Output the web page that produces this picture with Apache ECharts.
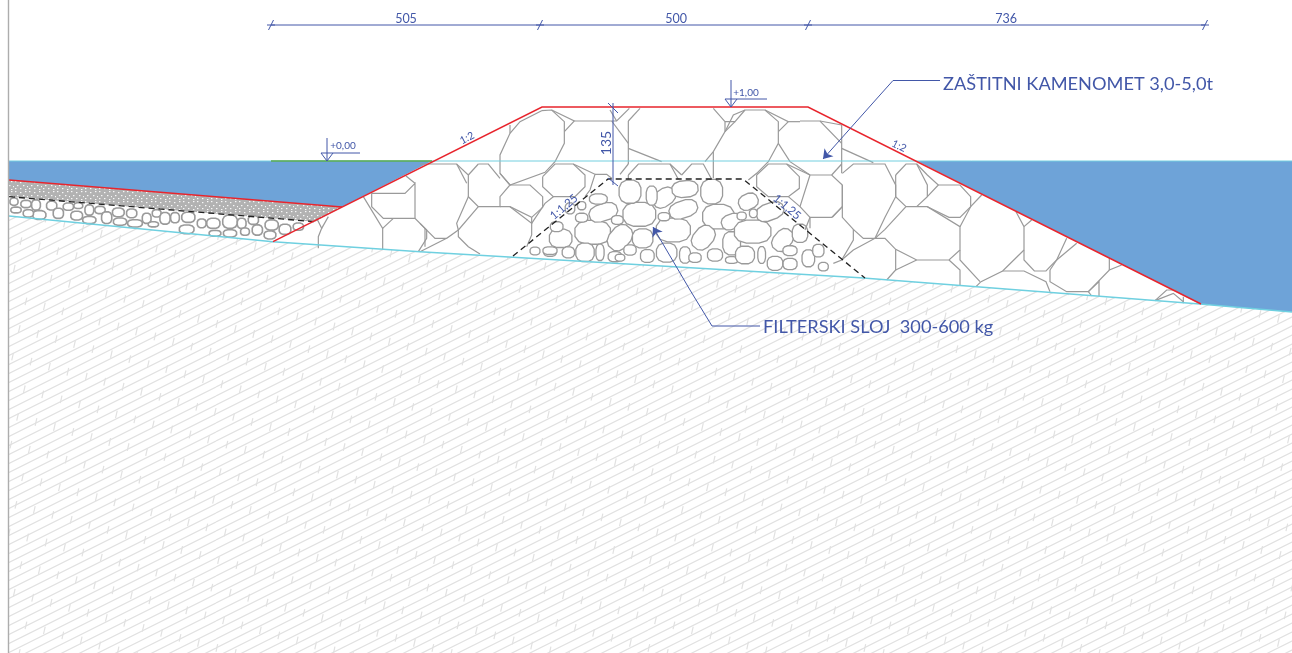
<!DOCTYPE html>
<html><head><meta charset="utf-8">
<style>html,body{margin:0;padding:0;background:#fff}#c{width:1292px;height:653px}</style>
<script src="https://cdn.jsdelivr.net/npm/echarts@6/dist/echarts.min.js"></script>
</head><body><div id="c"></div>
<script>
// ---- profile geometry (drawing units = picture pixels) ----
const seabed = [[9,216],[273,241.7],[420,251.7],[860,277.7],[1200,304],[1292,312]];
const groundOutline = [...seabed,[1292,653],[9,653]];
const waterLeft = [[9,161],[432,161],[342,207],[9,180]];
const waterRight = [[917,161],[1292,161],[1292,312],[1200,304]];
const gravelBand = [[9,180],[342,207],[315,221.7],[9,196.7]];
const armourOutline = [[273,241.7],[542,107],[808,107],[1201,304]];
const toeTop = [[9,180],[342,207]];
const waterLevel = [[9,161],[1292,161]];
const greenLevel = [[271,161],[432,161]];
const filterDashed = [[513,256],[608,179],[743,179],[865,278]];
const toeDashed = [[9,196.7],[315,221.7]];

const rocksLeftCrop = [
 [[1090,140],[1148,235],[1148,300]],[[1148,235],[1180,205]],
 [[1115,130],[1115,170],[1150,205],[1245,205],[1280,240],[1280,265],[1255,305]],
 [[1115,130],[1215,130],[1245,100],[1245,205]],[[1218,78],[1245,100]],
 [[950,205],[965,235],[955,260],[955,295]],[[985,200],[965,235]]
];
const rocksCrestCrop = [
 [[270,105],[270,130]],
 [[365,62],[395,60],[433,95],[433,160],[405,215],[375,247],[270,285],[240,250],[240,195],[270,130],[300,95],[365,62]],
 [[395,60],[463,93],[433,125]],[[463,93],[590,93],[628,55]],[[570,60],[590,93]],
 [[575,93],[625,160]],[[625,93],[660,55]],[[625,93],[625,222]],[[625,175],[725,215]],
 [[880,55],[915,95],[915,125],[880,185],[855,215]],[[915,95],[945,95],[975,60]],
 [[945,95],[915,125]],[[975,60],[1035,60],[1075,95],[1075,160],[1045,215],[1010,250],[985,270]],
 [[975,60],[940,75],[915,125]],[[880,185],[880,265]],
 [[1035,60],[1105,95],[1075,125]],[[1105,95],[1140,95]],
 [[1075,160],[1110,215],[1170,255]],[[1170,255],[1140,350],[1170,382]],
 [[0,222],[110,222],[145,255],[145,320],[175,350],[240,350],[240,320],[270,285],[240,250]],
 [[110,222],[140,280]],[[175,222],[145,255]],[[175,222],[205,222],[240,265]],
 [[270,285],[330,285],[368,320],[368,352],[335,382],[270,350],[240,350]],
 [[175,350],[115,420],[115,440],[145,470],[180,492]],[[270,350],[335,400],[335,435],[320,470]],
 [[335,382],[335,400]],[[145,320],[110,400],[115,420]],
 [[0,400],[45,445],[80,445],[115,420]],[[80,445],[0,485]],[[15,415],[15,470]],
 [[368,260],[405,222],[460,222],[495,255],[495,290],[465,320],[400,320],[368,290],[368,260]],
 [[460,222],[525,253],[510,300],[495,320]],[[525,253],[560,253],[575,265]],
 [[335,400],[375,340],[400,320]],
 [[600,253],[625,222]],[[625,255],[655,222],[750,222],[775,268]],[[625,255],[625,268]],
 [[785,255],[815,222],[850,222],[875,268]],[[750,222],[785,255]],
 [[1010,255],[1045,222],[1100,222],[1138,260],[1138,295],[1105,320],[1045,320],[1010,290],[1010,255]],
 [[1100,222],[1170,255]],[[1105,320],[1140,350]],[[1170,382],[1155,420]]
];
const rocksRightCrop = [
 [[0,93],[60,93],[125,160]],[[60,93],[125,105]],[[125,105],[125,250]],[[125,175],[220,218]],
 [[30,255],[95,255],[127,285],[127,350],[95,382],[30,382]],[[95,255],[125,222]],
 [[127,350],[97,382]],[[127,285],[127,382],[160,418],[190,445],[225,445],[255,418],[318,350],[382,350],[480,410],[480,480],[447,510],[350,510],[287,478],[255,445],[225,445],[160,480],[125,510]],
 [[127,250],[160,222],[255,222],[287,285],[287,320],[255,382],[225,445]],
 [[287,255],[318,222],[350,222],[382,285],[382,320],[350,350]],[[287,255],[287,320],[318,350]],
 [[350,222],[382,255],[415,285],[382,320]],[[415,285],[480,285],[512,320],[512,350],[480,410]],[[512,350],[480,382],[447,382],[382,350]],
 [[512,350],[545,315]],[[30,382],[30,415]],[[160,418],[160,450],[125,510],[100,520]],
 [[648,365],[672,410],[672,510],[703,543],[738,543],[770,510],[800,445]],[[672,410],[695,390]],
 [[672,480],[608,543],[543,575],[528,590]],[[770,510],[830,460]],
 [[750,540],[750,575],[800,605],[865,605],[928,540],[965,525]],[[928,505],[928,540]],[[750,540],[770,510]],
 [[608,543],[672,543],[738,575],[750,605]],[[865,605],[897,575],[897,618]],[[865,605],[875,618]],
 [[480,480],[480,510],[540,575]],[[447,510],[480,540],[480,585]],
 [[287,478],[287,540],[260,570]],[[287,540],[350,510]],
 [[1065,632],[1100,600],[1130,600]],[[1065,632],[1120,610],[1150,635]],[[1150,620],[1150,640]]
];

// ---- small stones: centre x, centre y, radius x, radius y, tilt (crop units, 3x) ----
const filterStonesCentre = [
 [298,118,48,35,0],[400,165,50,35,0],[158,172,52,35,0],[240,188,40,30,-50],[190,112,42,25,-18],[430,103,42,25,-18],
 [372,68,35,25,-35],[270,50,32,34,0],[335,62,16,28,0],[435,42,38,24,-5],[515,50,32,36,0],[535,125,46,36,0],
 [490,188,38,28,-50],[308,190,30,28,0],[125,128,18,13,0],[135,232,27,27,0],[180,232,12,24,0],[225,245,20,15,0],
 [270,225,18,15,0],[322,243,20,19,0],[380,233,30,28,0],[435,240,16,24,0],[62,190,33,27,0],[30,232,18,12,0],
 [85,232,18,16,0],[372,125,17,12,0],[232,135,17,13,0],[175,72,26,15,0],[465,248,18,14,0],[575,140,30,22,-20],
 [575,205,26,34,0],[525,240,22,18,0],[575,255,18,10,0],[90,100,14,16,0],[125,92,12,12,0],[240,248,14,10,0]
];
const filterStonesSides = [
 [998,425,52,33,0],[1050,365,40,24,-20],[1088,450,34,25,-50],[985,335,28,22,-25],[975,495,27,25,0],[1025,495,11,24,0],
 [1110,482,20,14,0],[1165,505,18,24,0],[1140,430,22,26,0],[1195,482,16,18,0],[1110,522,20,16,0],[1065,520,22,20,0],
 [1000,370,11,12,0],[965,378,13,11,0],[1210,530,14,12,0],[345,483,14,11,0],[390,482,20,11,0],[410,410,18,14,0]
];
const toeStonesCropA = [
 [42,80,11,10,0],[48,105,14,8,0],[78,87,14,10,0],[108,90,12,14,0],[118,120,18,12,0],[155,92,14,12,0],[85,115,14,10,0],
 [175,115,14,14,0],[205,95,14,10,0],[230,122,16,12,0],[235,92,12,8,0],[268,105,12,14,0],[268,135,18,10,0],[300,105,14,10,0],
 [320,128,14,16,0],[355,112,16,12,0],[360,140,18,10,0],[395,115,14,12,0],[405,145,20,10,0],[440,130,12,14,0],[470,115,12,10,0],
 [460,148,14,7,0],[495,130,14,16,0],[525,128,12,14,0]
];
const toeStonesCropB = [
 [55,82,18,14,0],[50,118,20,12,0],[95,100,12,12,0],[130,100,18,14,0],[135,130,16,8,0],[180,95,20,18,0],[180,130,18,10,0],
 [215,100,12,14,0],[225,125,12,10,0],[250,90,14,12,0],[262,120,14,14,0],[305,105,18,14,0],[300,135,16,11,0],
 [345,118,16,14,0],[385,110,14,10,0]
];

// ---- annotations ----
const dimensionTicksX = [271,540,808,1205];
const dimensionLabels = [
 {text:'505',x:406,y:19,size:12.5},{text:'500',x:676,y:19,size:12.5},{text:'736',x:1006,y:19,size:12.5}
];
const textLabels = [
 {text:'+0,00',x:343,y:146,size:10,narrow:true},{text:'+1,00',x:746,y:93,size:10,narrow:true},
 {text:'135',x:606,y:143,size:14,rot:90},
 {text:'1:2',x:467,y:138,size:10.5,rot:27},{text:'1:2',x:899,y:146,size:10.5,rot:-27},
 {text:'1:1,25',x:564,y:207,size:11.5,rot:40},{text:'1:1,25',x:787,y:207,size:11.5,rot:-40},
 {text:'ZAŠTITNI KAMENOMET 3,0-5,0t',x:943,y:84,size:18.2,left:true},
 {text:'FILTERSKI SLOJ  300-600 kg',x:763,y:327,size:18.2,left:true}
];
const leaderLines = [
 [[940,80.5],[893,80.5],[880,95]],[[712,326],[760,326]],[[712,326],[690,290]]
];
const leaderArrows = [
 [[880,95],[823,159]],[[690,290],[653,227]]
];
const levelMarks = [
 [[327,138],[327,161]],[[321,153],[327,161],[333,153]],[[321,153],[360,153]],
 [[731,80],[731,107]],[[725,99],[731,107],[737,99]],[[725,99],[767,99]]
];
const height135 = [[[613,103],[613,185]],[[608,103],[618,113]],[[608,178],[618,186]]];

// ---- helpers ----
const fromCrop=(ox,oy,lines)=>lines.map(l=>l.map(([x,y])=>[ox+x/3,oy+y/3]));
const stonesFrom=(ox,oy,list)=>list.map(([x,y,rx,ry,a])=>[ox+x/3,oy+y/3,rx/3,ry/3,a]);

function hatchTile(){
  const W=216,H=324,V=9,c=document.createElement('canvas');c.width=W;c.height=H;
  const g=c.getContext('2d');g.strokeStyle='#e1e1e1';g.lineWidth=1.2;
  for(let k=-40;k<90;k++){const y0=k*V;g.beginPath();g.moveTo(0,y0);g.lineTo(W,y0-W/2);g.stroke();}
  const a=[18.42,5.02],b=[-6.7,27.63];
  for(let i=-40;i<60;i++)for(let j=-40;j<60;j++){
    const x=i*a[0]+j*b[0],y=i*a[1]+j*b[1];
    if(x<-5||x>W+5||y<-10||y>H+10)continue;
    g.beginPath();g.moveTo(x,y+3.8);g.lineTo(x+1.7,y-3.8);g.stroke();
  }
  return c;
}
function gravelTile(){
  const c=document.createElement('canvas');c.width=14;c.height=10;const g=c.getContext('2d');
  g.fillStyle='#b2b2b2';g.fillRect(0,0,14,10);g.fillStyle='rgba(255,255,255,.9)';
  [[1,1],[6,2],[11,1],[3,5],[9,5],[13,6],[1,8],[6,8],[11,9]].forEach(([x,y])=>g.fillRect(x,y,1.4,1.2));
  return c;
}
const polySeries=(pts,fill,z)=>({
  type:'custom',coordinateSystem:'cartesian2d',z,silent:true,clip:false,
  data:[0],
  renderItem:(p,api)=>({type:'polygon',shape:{points:pts.map(q=>api.coord(q))},style:{fill,stroke:null}})
});
const lineSeries=(lines,color,width,z,extra)=>({
  type:'lines',coordinateSystem:'cartesian2d',polyline:true,z,silent:true,clip:false,
  lineStyle:Object.assign({color,width,opacity:1},extra||{}),
  data:lines.map(l=>({coords:l}))
});
const stoneSeries=(stones,z,lw,grow)=>({
  type:'custom',coordinateSystem:'cartesian2d',z,silent:true,clip:false,
  data:stones.map((_,i)=>i),
  renderItem:(p,api)=>{
    const [cx,cy,rx,ry,a]=stones[p.dataIndex];const t=a*Math.PI/180;const pts=[];
    const sp=(v)=>Math.sign(v)*Math.pow(Math.abs(v),0.8);
    for(let i=0;i<12;i++){const u=(i+.5)/12*2*Math.PI;
      const x=grow*rx*sp(Math.cos(u)),y=grow*ry*sp(Math.sin(u));
      pts.push(api.coord([cx+x*Math.cos(t)-y*Math.sin(t),cy+x*Math.sin(t)+y*Math.cos(t)]));}
    return {type:'polygon',shape:{points:pts},style:{fill:'#fff',stroke:'#9a9a9a',lineWidth:lw}};
  }
});
const BLUE='#4257a8';
const textSeries=(items,z)=>({
  type:'custom',coordinateSystem:'cartesian2d',z,silent:true,clip:false,
  data:items.map((_,i)=>i),
  renderItem:(p,api)=>{
    const d=items[p.dataIndex],q=api.coord([d.x,d.y]);
    const fam=d.narrow?'"Liberation Sans Narrow", Lato, sans-serif':'Lato, "Open Sans", sans-serif';
    return {type:'text',x:q[0],y:q[1],rotation:(d.rot||0)*Math.PI/180,
      style:{text:d.text,fill:BLUE,font:d.size+'px '+fam,
        align:d.left?'left':'center',verticalAlign:'middle'}};
  }
});
const dimLine=[[[dimensionTicksX[0],25],[dimensionTicksX[3],25]]];
const dimSlashes=dimensionTicksX.map(x=>[[x-2.5,30],[x+2.5,20]]);
const dimStems=dimensionTicksX.map(x=>[[x-4,25],[x+4,25]]);

const chart=echarts.init(document.getElementById('c'),null,{renderer:'canvas'});
chart.setOption({
  animation:false,backgroundColor:'#fff',
  grid:{left:0,right:0,top:0,bottom:0},
  xAxis:{type:'value',min:0,max:1292,show:false},
  yAxis:{type:'value',min:0,max:653,inverse:true,show:false},
  series:[
    polySeries(groundOutline,{image:hatchTile(),repeat:'repeat'},1),
    polySeries(waterLeft,'#6ea3d8',2),
    polySeries(waterRight,'#6ea3d8',2),
    polySeries(gravelBand,{image:gravelTile(),repeat:'repeat'},3),
    stoneSeries(stonesFrom(540,175,filterStonesCentre),5,1.3,1.05),
    stoneSeries(stonesFrom(420,90,filterStonesSides),5,1.3,1.08),
    stoneSeries(stonesFrom(0,175,toeStonesCropA),5,1.6,1.12),
    stoneSeries(stonesFrom(170,190,toeStonesCropB),5,1.6,1.12),
    lineSeries(fromCrop(0,150,rocksLeftCrop),'#9a9a9a',1.2,6),
    lineSeries(fromCrop(420,90,rocksCrestCrop),'#9a9a9a',1.2,6),
    lineSeries(fromCrop(800,90,rocksRightCrop),'#9a9a9a',1.2,6),
    lineSeries([waterLevel],'#72cfdf',1,7),
    lineSeries([seabed],'#6fd0e0',1.4,8),
    lineSeries([filterDashed,toeDashed],'#222',1.3,9,{type:[6,4]}),
    lineSeries([greenLevel],'#5aa84f',1.6,10),
    lineSeries([armourOutline,toeTop],'#e8252d',1.5,11),
    lineSeries(dimLine.concat(dimSlashes,dimStems),BLUE,1,12),
    lineSeries(leaderLines.concat(levelMarks,height135),BLUE,1,12),
    {type:'lines',coordinateSystem:'cartesian2d',z:12,silent:true,clip:false,
     symbol:['none','arrow'],symbolSize:9,
     lineStyle:{color:BLUE,width:1,opacity:1,curveness:0},
     data:leaderArrows.map(l=>({coords:l}))},
    textSeries(dimensionLabels.concat(textLabels),13),
    lineSeries([[[8.5,0],[8.5,653]]],'#adadad',1.4,14)
  ]
});
</script></body></html>
